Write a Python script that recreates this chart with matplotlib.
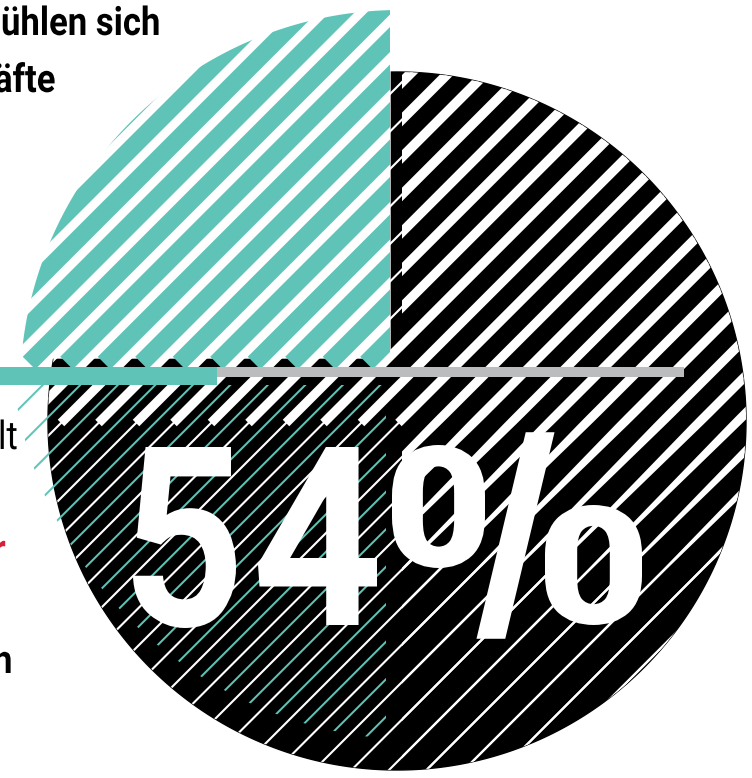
import numpy as np
import matplotlib.pyplot as plt
from matplotlib.patches import Polygon, Rectangle, PathPatch
from matplotlib.collections import LineCollection, PolyCollection
from matplotlib.textpath import TextPath
from matplotlib.font_manager import FontProperties
from matplotlib.transforms import Affine2D

# chart values
big_value = 54
wedge_share = 0.25      # teal quarter
bar_share = 0.317       # teal part of the progress bar
side_texts = ["ühlen sich", "äfte", "lt", "r", "h"]
side_colors = ["black", "black", "black", "#d6203a", "black"]
side_weights = ["bold", "bold", "normal", "bold", "bold"]
side_pos = [(1, 35), (-6, 92), (-2, 449), (-7, 562), (-7, 673)]

# glyph boxes of the big number (left, top, right, bottom in px); the % sign is
# drawn as "0", "/", "0"
big_glyphs = [str(big_value)[0], str(big_value)[1], "0", "/", "0"]
big_weights = ["bold", "bold", "black", "black", "black"]
big_edges = [0, 0, 0, 4.0, 0]
big_boxes = [(133, 447, 236, 628), (258, 447, 377, 625),
             (392, 445, 485, 568), (480, 435, 551, 636), (545, 505, 642, 625)]

TEAL = "#5fc4b7"
GRAY = "#bbbcbe"
W, H = 752, 778
PT = 0.72  # points per pixel at dpi 100

fig = plt.figure(figsize=(W / 100, H / 100), dpi=100)
ax = fig.add_axes([0, 0, 1, 1])
ax.set_xlim(0, W)
ax.set_ylim(H, 0)
ax.axis("off")


def disc(cx, cy, r, xlo=-1e9, xhi=1e9, ylo=-1e9, yhi=1e9, n=720):
    t = np.linspace(0, 2 * np.pi, n)
    pts = np.column_stack([cx + r * np.cos(t), cy + r * np.sin(t)])
    pts[:, 0] = np.clip(pts[:, 0], xlo, xhi)
    pts[:, 1] = np.clip(pts[:, 1], ylo, yhi)
    return Polygon(pts, closed=True, transform=ax.transData)


def diag(cs, y0, y1):
    return [[(c - y0, y0), (c - y1, y1)] for c in cs]


def path_text(s, x, y, size, sx=1.0, weight="bold", color="black", z=8):
    tp = TextPath((0, 0), s, size=size, prop=FontProperties(family="Roboto", weight=weight))
    tr = Affine2D().scale(sx, -1).translate(x, y) + ax.transData
    ax.add_patch(PathPatch(tp, transform=tr, facecolor=color, lw=0, zorder=z))


def fit_glyph(ch, box, weight="bold", color="white", edge=0, z=9):
    tp = TextPath((0, 0), ch, size=250, prop=FontProperties(family="Roboto", weight=weight))
    ext = tp.get_extents()
    L, T, Rt, B = box
    sx = (Rt - L) / ext.width
    sy = (B - T) / ext.height
    tr = Affine2D().translate(-ext.x0, -ext.y1).scale(sx, -sy).translate(L, T) + ax.transData
    ax.add_patch(PathPatch(tp, transform=tr, facecolor=color, edgecolor=color,
                           lw=edge, joinstyle="miter", zorder=z))


# black disc
cx, cy, R = 397, 421, 349
blk = disc(cx, cy, R)
blk.set(color="black", zorder=1)
ax.add_patch(blk)

period = 37.5
c_white = 484 + period * np.arange(-20, 32)

# thin white lines everywhere in disc
lc = LineCollection(diag(c_white, -50, 820), colors="white", linewidths=2.1 * PT, zorder=2)
lc.set_clip_path(disc(cx, cy, R))
ax.add_collection(lc)

# thin teal lines, lower left
lc = LineCollection(diag(c_white + period / 2, -50, 820), colors=TEAL, linewidths=2.0 * PT, zorder=2.5)
lc.set_clip_path(disc(420, 330, 410, xhi=386, ylo=385))
ax.add_collection(lc)

# tapering white stripes on the right
ys = np.linspace(40, 800, 80)
wy = np.interp(ys, [60, 420, 570, 780], [14, 13, 3.5, 3])
polys = []
for c in c_white:
    left = np.column_stack([c - ys - wy / 2, ys])
    right = np.column_stack([c - ys + wy / 2, ys])[::-1]
    polys.append(np.vstack([left, right]))
pc = PolyCollection(polys, facecolors="white", edgecolors="none", zorder=3)
pc.set_clip_path(disc(cx, cy, R, xlo=402))
ax.add_collection(pc)

# thick white teeth on the left, below the bar
lc = LineCollection(diag(c_white, 330, 423), colors="white", linewidths=9.2 * PT,
                    capstyle="butt", zorder=3)
lc.set_clip_path(disc(cx, cy, R, xhi=402))
ax.add_collection(lc)

# teal quarter (wedge) with stripes
tx, ty, tr = 400, 390, 380
a0, a1 = np.pi / 2, np.pi / 2 + 2 * np.pi * wedge_share
t = np.linspace(a0, a1, 200)
arc = np.column_stack([tx + tr * np.cos(t), ty - tr * np.sin(t)])
arc[:, 0] = np.minimum(arc[:, 0], 390)
bg = arc.copy()
bg[:, 1] = np.minimum(bg[:, 1], 358)
ax.add_patch(Polygon(np.vstack([bg, [(390, 358)]]), closed=True, color="white", zorder=4))
clip_pts = arc.copy()
clip_pts[:, 1] = np.minimum(clip_pts[:, 1], 400)
teal_clip = Polygon(np.vstack([clip_pts, [(390, 400)]]), closed=True, transform=ax.transData)
c_teal = 392 + period * np.arange(-5, 20)
lc = LineCollection(diag(c_teal, -80, 363), colors=TEAL, linewidths=17.7 * PT,
                    capstyle="butt", zorder=5)
lc.set_clip_path(teal_clip)
ax.add_collection(lc)

# progress bar
bar_end = 684
split = bar_end * bar_share
ax.add_patch(Rectangle((split, 367), bar_end - split, 10, color=GRAY, lw=0, zorder=6))
ax.add_patch(Rectangle((0, 367), split, 18, color=TEAL, lw=0, zorder=6))

# big number
for ch, wt, ed, box in zip(big_glyphs, big_weights, big_edges, big_boxes):
    fit_glyph(ch, box, weight=wt, edge=ed)

# cropped side texts
for s, col, wt, (x, y) in zip(side_texts, side_colors, side_weights, side_pos):
    path_text(s, x, y, 39.4, sx=0.88, weight=wt, color=col)

fig.savefig("out.png", dpi=100)
